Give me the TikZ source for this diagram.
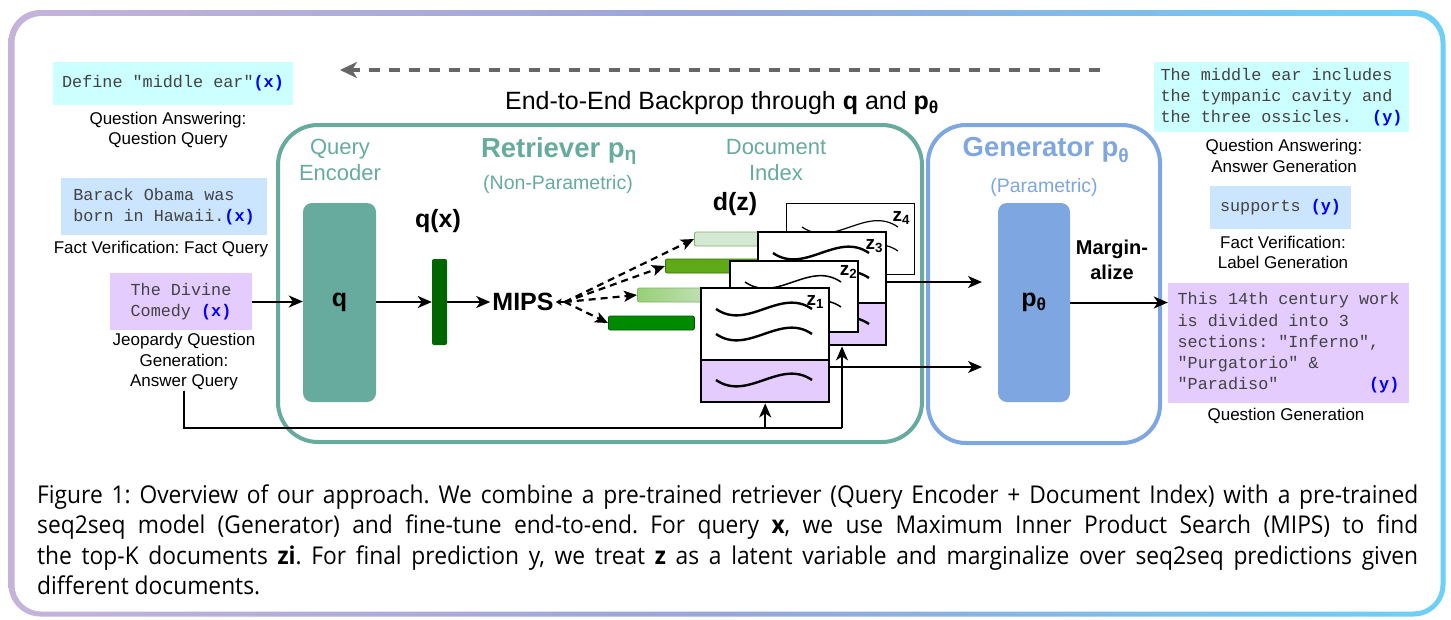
\documentclass[tikz,border=0pt]{standalone}
\usepackage{fontspec}
\setmainfont{Liberation Sans}
\setmonofont{Liberation Mono}
\newfontfamily\capfont[FakeStretch=0.93]{Open Sans}
\usetikzlibrary{arrows.meta,positioning}
\frenchspacing

\definecolor{retrgreen}{HTML}{67AB9F}
\definecolor{genblue}{HTML}{7EA6E0}
\definecolor{boxcyan}{HTML}{CCFFFF}
\definecolor{boxblue}{HTML}{CCE5FF}
\definecolor{boxlilac}{HTML}{E5CCFF}
\definecolor{tagblue}{HTML}{0000FF}
\definecolor{monogray}{HTML}{424242}
\definecolor{qxgreen}{HTML}{006600}
\definecolor{barpale}{HTML}{D5E8D4}
\definecolor{barpaleline}{HTML}{82B366}
\definecolor{barmid}{HTML}{60A917}
\definecolor{barmidline}{HTML}{2D7600}
\definecolor{bardark}{HTML}{008A00}
\definecolor{bardarkline}{HTML}{005700}
\definecolor{barlight}{HTML}{97D077}
\definecolor{framelilac}{HTML}{C5B3DA}
\definecolor{frameblue}{HTML}{97A6D8}
\definecolor{framecyan}{HTML}{6DD0F7}
\definecolor{backgray}{HTML}{666666}

\newcommand{\xtag}{\textcolor{tagblue}{\bfseries(x)}}
\newcommand{\ytag}{\textcolor{tagblue}{\bfseries(y)}}

\begin{document}
\begin{tikzpicture}[x=1pt, y=-1pt,
	>={Stealth[length=14pt,width=12pt,inset=4pt]},
	conn/.style={line width=2pt},
	lbl/.style={align=center, inner sep=0pt, font=\fontsize{17}{20.5}\selectfont},
	mbox/.style={align=left, inner xsep=0pt, inner ysep=0pt, font=\ttfamily\fontsize{16.8}{21.3}\selectfont, text=monogray},
	tealtxt/.style={align=center, inner sep=0pt, text=retrgreen, font=\fontsize{22}{26.5}\selectfont},
	cont/.style={draw, line width=4pt, inner sep=0pt},
	ttl/.style={inner sep=0pt, font=\bfseries\fontsize{27.5}{31}\selectfont},
	subttl/.style={inner sep=0pt, font=\fontsize{19.5}{23}\selectfont},
	bigb/.style={inner sep=0pt, font=\bfseries\fontsize{25}{29}\selectfont},
	block/.style={rounded corners=9pt, minimum height=199pt, inner sep=0pt, font=\bfseries\fontsize{25}{29}\selectfont},
	bar/.style={rounded corners=2pt, minimum height=14pt, minimum width=100pt, inner sep=0pt, anchor=west, line width=0.8pt},
	doc/.style={draw, fill=white, minimum width=128pt, inner sep=0pt, anchor=north west},
	lowpart/.style={path picture={
		\fill[boxlilac] ([yshift=42pt]path picture bounding box.south west) rectangle (path picture bounding box.south east);
		\draw[line width=2.4pt] ([yshift=42pt]path picture bounding box.south west) -- ([yshift=42pt]path picture bounding box.south east);}},
	zlab/.style={inner sep=0pt, font=\bfseries\fontsize{19}{22}\selectfont},
	wave/.pic={\draw[pic actions] (0,0) .. controls (32,22) and (64,-22) .. (96,0);},
	fanarr/.style={line width=2.2pt, dash pattern=on 7pt off 5pt, -{Stealth[length=13pt,width=11pt,inset=3pt]}},
	backprop/.style={draw=backgray, line width=3.5pt, dash pattern=on 11pt off 9pt, -{Stealth[length=17pt,width=16pt,inset=5pt]}}
]
	% frame with colour run
	\useasboundingbox[fill=white] (0,0) rectangle (1451,619);
	\shade[left color=framelilac, right color=framecyan, middle color=frameblue, rounded corners=32pt] (8.5,10) rectangle (1445.5,616.5);
	\fill[white, rounded corners=27pt] (14.5,16) rectangle (1440.5,611.5);

	% containers
	\node[cont, draw=retrgreen, rounded corners=40pt, minimum width=644pt, minimum height=317pt] (ret) at (600,283.5) {};
	\node[cont, draw=genblue, rounded corners=38pt, minimum width=232pt, minimum height=318pt] (gen) at (1044,284) {};

	% inputs
	\node[mbox, fill=boxcyan, minimum width=240pt, minimum height=43pt] (qaq) at (173,83.5) {Define "middle ear"\xtag};
	\node[lbl] (qaql) at (168,130) {Question Answering:\\Question Query};
	\node[mbox, fill=boxblue, minimum width=206pt, minimum height=57pt] (fvq) at (164,206.5) {Barack Obama was\\born in Hawaii.\xtag};
	\node[lbl] (fvql) at (161,249) {Fact Verification: Fact Query};
	\node[mbox, fill=boxlilac, minimum width=142pt, minimum height=57pt] (jqq) at (181,301.5) {The Divine\\Comedy \xtag};
	\node[lbl] (jqql) at (184,362) {Jeopardy Question\\Generation:\\Answer Query};

	% outputs
	\node[mbox, fill=boxcyan, minimum width=255pt, minimum height=70pt] (qaa) at (1281.5,97) {The middle ear includes\\the tympanic cavity and\\the three ossicles.~~\ytag};
	\node[lbl] (qaal) at (1284,156) {Question Answering:\\Answer Generation};
	\node[mbox, fill=boxblue, minimum width=141pt, minimum height=43pt] (fva) at (1280.5,207.5) {supports \ytag};
	\node[lbl] (fval) at (1283,252.5) {Fact Verification:\\Label Generation};
	\node[mbox, fill=boxlilac, minimum width=241pt, minimum height=120pt] (jqa) at (1288.5,343) {This 14th century work\\is divided into 3\\sections: "Inferno",\\"Purgatorio" \&\\"Paradiso"~~~~~~~~~\ytag};
	\node[lbl] (jqal) at (1286,416) {Question Generation};

	% retriever
	\node[tealtxt] (encl) at (340,160) {Query\\Encoder};
	\node[ttl, text=retrgreen] (rett) at (559,151) {Retriever p\textsubscript{η}};
	\node[subttl, text=retrgreen] (rets) at (558,184) {(Non-Parametric)};
	\node[tealtxt] (idxl) at (776,160) {Document\\Index};
	\node[block, fill=retrgreen, minimum width=73pt] (enc) at (339.5,302.5) {q};
	\node[bigb] (qxl) at (438,221) {q(x)};
	\node[fill=qxgreen, rounded corners=2pt, minimum width=15pt, minimum height=86pt, inner sep=0pt] (qx) at (439.5,302) {};
	\node[bigb, inner sep=2pt] (mips) at (523,302) {MIPS};
	\node[bigb] (dzl) at (735,204) {d(z)};

	% document vectors
	\node[bar, fill=barpale, draw=barpaleline] (b1) at (694,239) {};
	\node[bar, fill=barmid, draw=barmidline] (b2) at (665,266) {};
	\node[bar, left color=barlight, right color=barpale, draw=barpaleline] (b3) at (637,295) {};
	\node[bar, fill=bardark, draw=bardarkline, minimum width=86pt] (b4) at (608,323) {};

	% documents, back to front
	\node[doc, line width=1.2pt, minimum height=71pt] (z4) at (786,203) {};
	\pic[line width=1.2pt] at ([xshift=16pt,yshift=-24pt]z4.north west) {wave};
	\pic[line width=1.2pt] at ([xshift=16pt,yshift=-48pt]z4.north west) {wave};
	\node[zlab] at ([xshift=-14pt,yshift=-15pt]z4.north east) {z\textsubscript{4}};

	\node[doc, lowpart, line width=2.4pt, minimum height=113pt] (z3) at (757,231) {};
	\pic[line width=2.4pt] at ([xshift=16pt,yshift=-22pt]z3.north west) {wave};
	\pic[line width=2.4pt] at ([xshift=16pt,yshift=-47pt]z3.north west) {wave};
	\pic[line width=2.4pt] at ([xshift=16pt,yshift=-93pt]z3.north west) {wave};
	\node[zlab] at ([xshift=-13pt,yshift=-15pt]z3.north east) {z\textsubscript{3}};

	\node[doc, line width=1.5pt, minimum height=71pt] (z2) at (729,260) {};
	\pic[line width=1.5pt] at ([xshift=16pt,yshift=-22pt]z2.north west) {wave};
	\pic[line width=1.5pt] at ([xshift=16pt,yshift=-47pt]z2.north west) {wave};
	\node[zlab] at ([xshift=-10pt,yshift=-12pt]z2.north east) {z\textsubscript{2}};

	\node[doc, lowpart, line width=2.4pt, minimum height=114pt] (z1) at (700,287) {};
	\pic[line width=2.4pt] at ([xshift=16pt,yshift=-22pt]z1.north west) {wave};
	\pic[line width=2.4pt] at ([xshift=16pt,yshift=-47pt]z1.north west) {wave};
	\pic[line width=2.4pt] at ([xshift=16pt,yshift=-93pt]z1.north west) {wave};
	\node[zlab] at ([xshift=-15pt,yshift=-15pt]z1.north east) {z\textsubscript{1}};

	% generator
	\node[ttl, text=genblue] (gent) at (1046,150) {Generator p\textsubscript{θ}};
	\node[subttl, text=genblue] (gens) at (1044,187) {(Parametric)};
	\node[block, fill=genblue, minimum width=72pt] (pth) at (1034,302.5) {p\textsubscript{θ}};
	\node[inner sep=0pt, align=center, font=\bfseries\fontsize{20}{25}\selectfont] (marg) at (1112,260) {Margin-\\alize};

	% backprop
	\coordinate (bpr) at (1100,70);
	\coordinate (bpl) at (340,70);
	\draw[backprop] (bpr) -- (bpl);
	\node[inner sep=0pt, font=\fontsize{25}{29}\selectfont] (bpt) at (722,103) {End-to-End Backprop through \textbf{q} and \textbf{p\textsubscript{θ}}};

	% connectors
	\draw[conn, ->] (jqq.east) -- (jqq.east -| enc.west);
	\draw[conn, ->] (enc.east |- qx) -- (qx.west);
	\draw[conn, ->] (qx.east) -- (mips.west);
	\coordinate (fan) at ([xshift=9pt]mips.east);
	\draw[line width=1.5pt, -{Stealth[length=6pt,width=7pt]}] (fan) -- (mips.east);
	\draw[fanarr] (fan) -- (b1.west);
	\draw[fanarr] (fan) -- (b2.west);
	\draw[fanarr] (fan) -- (b3.west);
	\draw[fanarr] (fan) -- (b4.west);
	\coordinate (g1) at (982,282);
	\coordinate (g2) at (982,367);
	\draw[conn, ->] (z3.east |- g1) -- (g1);
	\draw[conn, ->] (z1.east |- g2) -- (g2);
	\coordinate (up2) at (842,428);
	\draw[conn] (jqql.south) |- (up2);
	\draw[conn, ->] (up2) -- (up2 |- z3.south);
	\draw[conn, ->] (z1.south |- up2) -- (z1.south);
	\draw[conn, ->] (pth.east) -- (pth.east -| jqa.west);

	% caption
	\node[anchor=base west, text width=1381pt, align=justify, inner sep=0pt, font=\capfont\fontsize{24.5}{30.5}\selectfont] (cap) at (37,503) {Figure 1: Overview of our approach. We combine a pre-trained retriever (Query Encoder + Document Index) with a pre-trained\linebreak seq2seq model (Generator) and fine-tune end-to-end. For query \textbf{x}, we use Maximum Inner Product Search (MIPS) to find\linebreak the top-K documents \textbf{zi}. For final prediction y, we treat \textbf{z} as a latent variable and marginalize over seq2seq predictions given\linebreak different documents.};
\end{tikzpicture}
\end{document}
